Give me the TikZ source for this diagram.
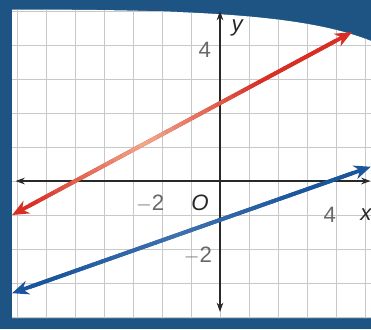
\documentclass[tikz,border=0pt]{standalone}
\usepackage{fontspec}
\setmainfont{Liberation Sans}
\usetikzlibrary{arrows.meta,calc}
\definecolor{PageBlue}{RGB}{30,84,132}
\definecolor{GridGray}{RGB}{200,200,200}
\definecolor{AxisInk}{RGB}{40,40,40}
\definecolor{NumberGray}{RGB}{105,105,105}
\definecolor{RedEnd}{RGB}{216,46,36}
\definecolor{RedMid}{RGB}{246,190,160}
\definecolor{BlueEnd}{RGB}{26,86,156}
\definecolor{BlueMid}{RGB}{84,128,186}
\newcommand\pageoutline{(-7.17,-4.03) -- (-7.17,5.04) .. controls (0,5.06) and (3.2,4.8) .. (5.21,4.12) -- (5.21,-4.03) -- cycle}
\tikzset{
  gridline/.style={draw=GridGray,line width=0.7pt},
  axis/.style={draw=AxisInk,line width=0.9pt,{Stealth[length=2.8mm,width=2mm]}-{Stealth[length=2.8mm,width=2mm]}},
  graphline/.style={line width=3.3pt,{Stealth[length=5mm,width=4.2mm,inset=1.6mm]}-{Stealth[length=5mm,width=4.2mm,inset=1.6mm]}},
  num/.style={text=NumberGray,font=\fontsize{19}{22}\selectfont,inner sep=0pt},
  var/.style={text=AxisInk,font=\fontsize{19}{22}\selectfont\itshape,inner sep=0pt}
}

\begin{document}
\begin{tikzpicture}[x=0.87cm,y=1.02cm]
  \useasboundingbox (-7.586,-4.353) rectangle (5.207,5.324);
  % page edge and paper
  \fill[PageBlue] (-7.586,-4.353) rectangle (5.207,5.324);
  \fill[white] \pageoutline;
  \begin{scope}
    \clip \pageoutline;
    \foreach \gx in {-7,...,5}
      \draw[gridline] (\gx,-4.1) -- (\gx,5.2);
    \foreach \gy in {-4,...,5}
      \draw[gridline] (-7.2,\gy) -- (5.3,\gy);
  \end{scope}

  % axes
  \coordinate (xl) at (-7.05,0);
  \coordinate (xr) at (5.19,0);
  \coordinate (yb) at (0,-3.85);
  \coordinate (yt) at (0,5.0);
  \draw[axis] (xl) -- (xr);
  \draw[axis] (yb) -- (yt);

  % red line
  \coordinate (rA) at (-7.17,-1.0);
  \coordinate (rB) at (4.55,4.38);
  \draw[graphline,draw=RedEnd,fill=RedEnd] (rA) -- (rB);
  \foreach \i in {0,...,35}{
    \pgfmathsetmacro\ta{0.05+0.025*\i}
    \pgfmathsetmacro\tb{\ta+0.027}
    \pgfmathsetmacro\mix{15+85*min(1,abs(\ta-0.38)/0.34)}
    \draw[line width=3.3pt,draw=RedEnd!\mix!RedMid] ($(rA)!\ta!(rB)$) -- ($(rA)!\tb!(rB)$);
  }

  % blue line
  \coordinate (bA) at (-7.17,-3.3);
  \coordinate (bB) at (5.2,0.42);
  \draw[graphline,draw=BlueEnd,fill=BlueEnd] (bA) -- (bB);
  \foreach \i in {0,...,35}{
    \pgfmathsetmacro\ta{0.05+0.025*\i}
    \pgfmathsetmacro\tb{\ta+0.027}
    \pgfmathsetmacro\mix{35+65*min(1,abs(\ta-0.45)/0.35)}
    \draw[line width=3.3pt,draw=BlueEnd!\mix!BlueMid] ($(bA)!\ta!(bB)$) -- ($(bA)!\tb!(bB)$);
  }

  % labels
  \node[var] (ylab) at (0.59,4.5) {y};
  \node[num] (yfour) at (-0.52,3.85) {4};
  \node[num] (xmtwo) at (-2.41,-0.65) {$-$2};
  \node[var] (orig) at (-0.69,-0.65) {O};
  \node[num] (xfour) at (3.79,-1.0) {4};
  \node[var] (xlab) at (5.03,-1.0) {x};
  \node[num] (ymtwo) at (-0.76,-2.18) {$-$2};
\end{tikzpicture}
\end{document}
